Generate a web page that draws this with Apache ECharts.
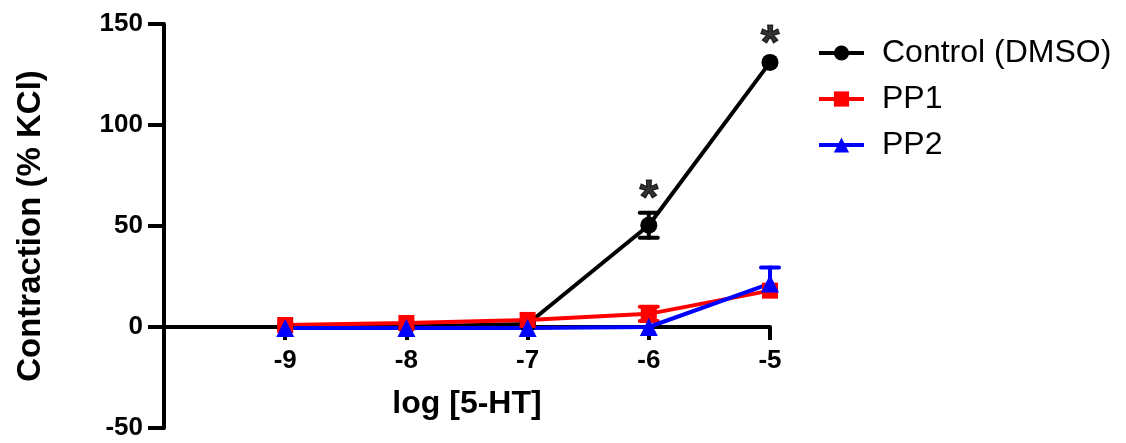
<!DOCTYPE html>
<html>
<head>
<meta charset="utf-8">
<script src="https://cdn.jsdelivr.net/npm/echarts@6/dist/echarts.min.js"></script>
<style>html,body{margin:0;padding:0;background:#fff}#c{width:1126px;height:443px}</style>
</head>
<body>
<div id="c"></div>
<script>
const xValues = [-9, -8, -7, -6, -5];
const xTicks = [-9, -8, -7, -6, -5];
const yTicks = [-50, 0, 50, 100, 150];
const controlMean = [0, 0.3, 1.5, 50.4, 131];
const controlErr = [0, 0, 0, 6.2, 0];
const pp1Mean = [1, 2, 3.5, 6.5, 18];
const pp1Err = [0, 0, 0, 3.5, 0];
const pp2Mean = [-0.5, -0.5, -0.5, 0, 21.5];
const pp2Err = [0, 0, 0, 0, 8];
const sigX = [-6, -5];
const sigY = [68.3, 145];
const seriesNames = ['Control (DMSO)', 'PP1', 'PP2'];
const colors = ['#000000', '#ff0000', '#0000ff'];

const FONT = '"Liberation Sans", Arial, sans-serif';
const W = 1126, H = 443;
const G = { left: 164, right: 356, top: 24, bottom: 15 };
const Y_MIN = -50, Y_MAX = 150;
const zeroOffset = -(H - G.top - G.bottom) * (0 - Y_MIN) / (Y_MAX - Y_MIN);

const chart = echarts.init(document.getElementById('c'));

function pairs(m) { return xValues.map((x, i) => [x, m[i]]); }
function errData(m, e) { return xValues.map((x, i) => [x, m[i] - e[i], m[i] + e[i], m[i]]); }

function errSeries(m, e, color, both) {
  return {
    type: 'custom',
    data: errData(m, e),
    z: 2,
    silent: true,
    renderItem: function (params, api) {
      const x = api.value(0);
      if (api.value(2) === api.value(1)) return null;
      const lo = api.coord([x, both ? api.value(1) : api.value(3)]);
      const hi = api.coord([x, api.value(2)]);
      const hw = 9;
      const st = { stroke: color, lineWidth: 4, lineCap: 'round' };
      const children = [
        { type: 'line', shape: { x1: lo[0], y1: lo[1], x2: hi[0], y2: hi[1] }, style: st },
        { type: 'line', shape: { x1: hi[0] - hw, y1: hi[1], x2: hi[0] + hw, y2: hi[1] }, style: st }
      ];
      if (both) children.push({ type: 'line', shape: { x1: lo[0] - hw, y1: lo[1], x2: lo[0] + hw, y2: lo[1] }, style: st });
      return { type: 'group', children: children };
    }
  };
}

function lineSeries(name, m, color, symbol, size) {
  return {
    name: name,
    type: 'line',
    data: pairs(m),
    symbol: symbol,
    symbolSize: size,
    showAllSymbol: true,
    z: 3,
    lineStyle: { color: color, width: 4 },
    itemStyle: { color: color, borderWidth: 0 },
    emphasis: { disabled: true }
  };
}

chart.setOption({
  animation: false,
  backgroundColor: '#fff',
  grid: { left: G.left, right: G.right, top: G.top, bottom: G.bottom, outerBoundsMode: 'none' },
  legend: {
    left: 812, top: 32, orient: 'vertical',
    itemWidth: 45, itemHeight: 19, itemGap: 14,
    lineStyle: { width: 4 },
    textStyle: { fontFamily: FONT, fontSize: 32, color: '#000', padding: [0, 0, 0, 13] },
    data: seriesNames
  },
  xAxis: {
    type: 'value', min: -10, max: -5, interval: 1,
    offset: zeroOffset,
    name: 'log [5-HT]', nameLocation: 'middle', nameGap: 61,
    nameTextStyle: { fontFamily: FONT, fontSize: 32, fontWeight: 'bold', color: '#000' },
    axisLine: { show: true, onZero: false, lineStyle: { color: '#000', width: 4 } },
    axisTick: { show: true, length: 13, customValues: xTicks, lineStyle: { color: '#000', width: 4 } },
    axisLabel: { customValues: xTicks, margin: 21, fontFamily: FONT, fontSize: 26, fontWeight: 'bold', color: '#000' },
    splitLine: { show: false }
  },
  yAxis: {
    type: 'value', min: Y_MIN, max: Y_MAX, interval: 50,
    name: 'Contraction (% KCl)', nameLocation: 'middle', nameGap: 117,
    nameTextStyle: { fontFamily: FONT, fontSize: 33, fontWeight: 'bold', color: '#000' },
    axisLine: { show: true, lineStyle: { color: '#000', width: 4 } },
    axisTick: { show: true, length: 16, customValues: yTicks, lineStyle: { color: '#000', width: 4 } },
    axisLabel: { customValues: yTicks, margin: 21, fontFamily: FONT, fontSize: 26, fontWeight: 'bold', color: '#000' },
    splitLine: { show: false }
  },
  series: [
    lineSeries(seriesNames[0], controlMean, colors[0], 'circle', 17),
    errSeries(controlMean, controlErr, colors[0], true),
    lineSeries(seriesNames[1], pp1Mean, colors[1], 'rect', 16),
    errSeries(pp1Mean, pp1Err, colors[1], true),
    lineSeries(seriesNames[2], pp2Mean, colors[2], 'triangle', 18),
    errSeries(pp2Mean, pp2Err, colors[2], false),
    {
      type: 'scatter',
      data: sigX.map((x, i) => [x, sigY[i]]),
      symbolSize: 1,
      z: 5,
      itemStyle: { color: 'rgba(0,0,0,0)' },
      silent: true,
      label: {
        show: true, position: 'inside', offset: [0, 11], formatter: '*',
        fontFamily: FONT, fontSize: 48, fontWeight: 'bold', color: '#000',
        textBorderColor: '#000', textBorderWidth: 1.2
      }
    }
  ]
});
</script>
</body>
</html>
